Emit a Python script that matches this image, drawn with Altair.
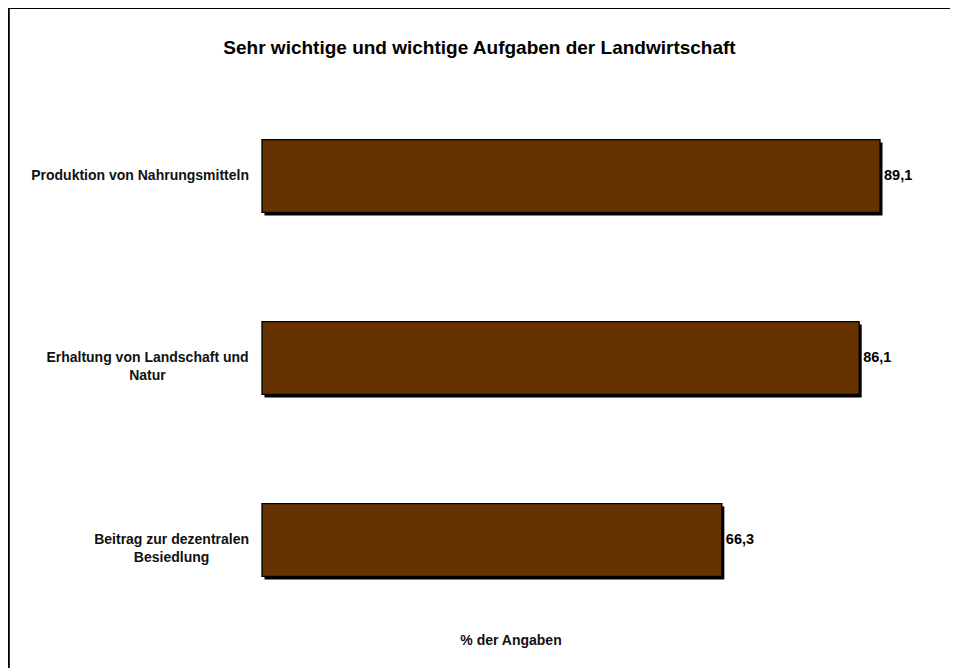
import altair as alt
import pandas as pd

# ---- data ----
categories = [
    "Produktion von Nahrungsmitteln",
    "Erhaltung von Landschaft und Natur",
    "Beitrag zur dezentralen Besiedlung",
]
category_lines = [
    "Produktion von Nahrungsmitteln",
    "Erhaltung von Landschaft und\nNatur",
    "Beitrag zur dezentralen\nBesiedlung",
]
values = [89.1, 86.1, 66.3]
title_text = "Sehr wichtige und wichtige Aufgaben der Landwirtschaft"
x_title = "% der Angaben"

# ---- layout / style ----
W, H = 942, 660
FONT = "Liberation Sans, Arial, sans-serif"
BROWN = "#663300"
LABEL_SIZE = 14
LABEL_RIGHT = 241  # right edge of category label block (plot px)

# Arial/Liberation Sans Bold advance widths (per 1000 em) for label wrapping blocks
_w = {" ": 278, "B": 722, "E": 722, "N": 722, "P": 667, "L": 611, "a": 556, "b": 611,
      "c": 556, "d": 611, "e": 556, "f": 333, "g": 611, "h": 611, "i": 278, "k": 556,
      "l": 278, "m": 889, "n": 611, "o": 611, "r": 389, "s": 556, "t": 333, "u": 611,
      "v": 556, "z": 500}


def text_width(s, size):
    return sum(_w.get(ch, 556) for ch in s) * size / 1000.0


df = pd.DataFrame({
    "category": categories,
    "label": category_lines,
    "value": values,
    "value_label": [f"{v:.1f}".replace(".", ",") for v in values],
})
df["lx"] = [LABEL_RIGHT - max(text_width(l, LABEL_SIZE) for l in s.split("\n")) / 2
            for s in category_lines]

x_scale = alt.Scale(domain=[0, 100], range=[254, 947.6], nice=False, zero=True)
y_scale = alt.Scale(domain=categories, range=[77, 623], paddingInner=0.6, paddingOuter=0.3)

base = alt.Chart(df)
X = alt.X("value:Q", scale=x_scale, axis=None)
Y = alt.Y("category:N", sort=categories, scale=y_scale, axis=None)

shadow = base.mark_bar(color="black", xOffset=2.5, yOffset=3).encode(x=X, y=Y)
bars = base.mark_bar(color=BROWN, stroke="black", strokeWidth=1.3).encode(x=X, y=Y)

value_text = base.mark_text(
    align="left", baseline="middle", dx=4, dy=0, font=FONT, fontSize=14.5,
    fontWeight="bold", color="black"
).encode(x=X, y=Y, text="value_label:N")

cat_text = base.mark_text(
    align="center", baseline="middle", lineBreak="\n", lineHeight=17.5, font=FONT,
    fontSize=LABEL_SIZE, fontWeight="bold", color="#111111"
).encode(x=alt.X("lx:Q", scale=None, axis=None), y=Y, text="label:N")

title = alt.Chart(pd.DataFrame({"t": [title_text]})).mark_text(
    align="center", baseline="middle", font=FONT, fontSize=19, fontWeight="bold", color="black"
).encode(x=alt.value(471.5), y=alt.value(39.5), text="t:N")

xtitle = alt.Chart(pd.DataFrame({"t": [x_title]})).mark_text(
    align="center", baseline="middle", font=FONT, fontSize=14, fontWeight="bold", color="#111111"
).encode(x=alt.value(503), y=alt.value(633), text="t:N")

frame_df = pd.DataFrame({"k": [0]})
top_rule = alt.Chart(frame_df).mark_rule(color="black", strokeWidth=3).encode(
    x=alt.value(0), x2=alt.value(W), y=alt.value(-0.5))
left_rule = alt.Chart(frame_df).mark_rule(color="black", strokeWidth=2).encode(
    x=alt.value(0.8), y=alt.value(0), y2=alt.value(H))

chart = alt.layer(
    top_rule, left_rule, shadow, bars, value_text, cat_text, title, xtitle
).properties(
    width=W, height=H, padding=0,
    autosize=alt.AutoSizeParams(type="none"),
).configure_view(stroke=None)

chart.save("out.html", embed_options={"renderer": "svg", "actions": False})
